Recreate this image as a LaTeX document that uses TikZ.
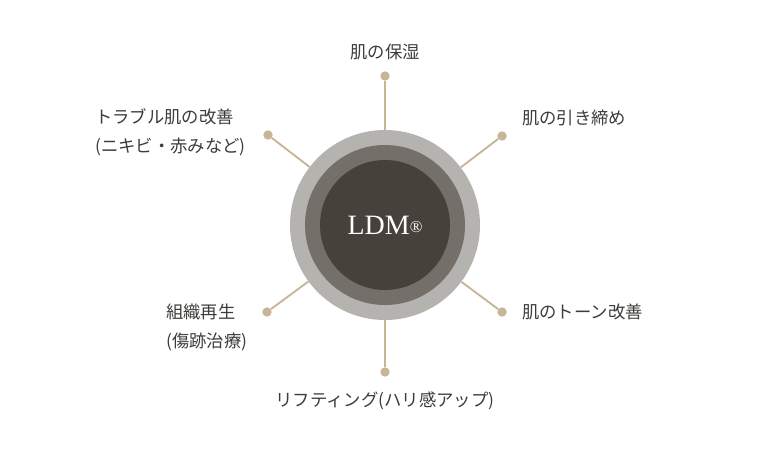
\documentclass[tikz,border=0pt]{standalone}
\usepackage{fontspec}
\usepackage{tikz}
\newfontfamily\jpfont{Noto Sans CJK JP}
\newfontfamily\ldmfont{Liberation Serif}
\definecolor{ringlight}{RGB}{180,179,175}
\definecolor{ringmid}{RGB}{116,111,104}
\definecolor{ringdark}{RGB}{70,65,58}
\definecolor{spoketan}{RGB}{200,181,150}
\definecolor{itemgray}{RGB}{62,60,57}
\tikzset{
	ring/.style={circle, inner sep=0pt},
	dot/.style={circle, fill=spoketan, inner sep=0pt, minimum size=7pt},
	spoke/.style={draw=spoketan, line width=1.4pt},
	itemtext/.style={inner sep=0pt, text=itemgray, align=left, font=\jpfont\fontsize{13}{21.75}\selectfont}
}
\begin{document}
\begin{tikzpicture}[x=0.75pt,y=0.75pt,yscale=-1,xscale=1]
	\fill [white] (0,0) rectangle (770,450);
	\useasboundingbox (0,0) rectangle (770,450);
	
	%Shape: Circle [id:outer] 
	\node [ring, fill=ringlight, minimum size=142.5pt] (outer) at (385,225) {};
	%Shape: Circle [id:middle] 
	\node [ring, fill=ringmid, minimum size=120pt] (middle) at (385,225) {};
	%Shape: Circle [id:core] 
	\node [ring, fill=ringdark, minimum size=97.5pt, text=white] (core) at (385,225) {\ldmfont\fontsize{21}{24}\selectfont LDM{\fontsize{12.5}{12}\selectfont\raisebox{1pt}{®}}};
	
	%Shape: Dots
	\node [dot] (dtop) at (385,76) {};
	\node [dot] (dtr) at (502,136) {};
	\node [dot] (dtl) at (268,135) {};
	\node [dot] (dbl) at (267,312) {};
	\node [dot] (dbr) at (502,312) {};
	\node [dot] (dbot) at (385,372) {};
	
	%Straight Lines
	\draw [spoke] (dtop) -- (outer);
	\draw [spoke] (dtr) -- (outer);
	\draw [spoke] (dtl) -- (outer);
	\draw [spoke] (dbl) -- (outer);
	\draw [spoke] (dbr) -- (outer);
	\draw [spoke] (dbot) -- (outer);
	
	% Text Node
	\node [itemtext, anchor=center] (ttop) at (385,52) {肌の保湿};
	% Text Node
	\node [itemtext, anchor=west] (ttr) at (522,118) {肌の引き締め};
	% Text Node
	\node [itemtext, anchor=west] (ttl) at (95,132.5) {トラブル肌の改善\\(ニキビ・赤みなど)};
	% Text Node
	\node [itemtext, anchor=west] (tbl) at (166,327.5) {組織再生\\(傷跡治療)};
	% Text Node
	\node [itemtext, anchor=west] (tbr) at (522,312) {肌のトーン改善};
	% Text Node
	\node [itemtext, anchor=center] (tbot) at (385,401) {リフティング(ハリ感アップ)};
	
\end{tikzpicture}
\end{document}
